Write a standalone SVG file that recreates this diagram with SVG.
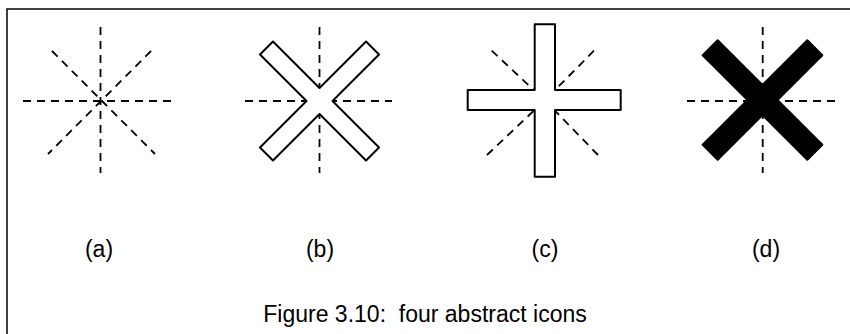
<svg xmlns="http://www.w3.org/2000/svg" width="850" height="334" viewBox="0 0 850 334">
<style>
.dash{fill:none;stroke:#000;stroke-width:1.8;stroke-dasharray:8,6}
.outline{fill:#fff;stroke:#000;stroke-width:2;stroke-linejoin:round}
.solid{fill:#000;stroke:#000;stroke-width:2;stroke-linejoin:round}
.lbl{font-family:"Liberation Sans",Arial,sans-serif;font-size:23px;fill:#000;text-anchor:middle;white-space:pre}
</style>
<rect width="850" height="334" fill="#fff"/>
<path d="M7,334 V9 H850" fill="none" stroke="#000" stroke-width="1.5"/>
<g id="icon-a">
  <line class="dash" x1="100.5" y1="27" x2="100.5" y2="173"/>
  <line class="dash" x1="23" y1="101" x2="172" y2="101"/>
  <line class="dash" x1="52" y1="51" x2="155" y2="154"/>
  <line class="dash" x1="151" y1="51" x2="48" y2="154"/>
</g>
<g id="icon-b">
  <line class="dash" x1="319.5" y1="27" x2="319.5" y2="173"/>
  <line class="dash" x1="245" y1="101" x2="392" y2="101"/>
  <polygon class="outline" transform="translate(319.5,101)" points="0,-13 46.53,-59.53 59.53,-46.53 13,0 59.53,46.53 46.53,59.53 0,13 -46.53,59.53 -59.53,46.53 -13,0 -59.53,-46.53 -46.53,-59.53"/>
</g>
<g id="icon-c">
  <line class="dash" x1="491.7" y1="50.7" x2="544.8" y2="100.3"/>
  <line class="dash" x1="594" y1="50.7" x2="544.8" y2="100.3"/>
  <line class="dash" x1="487" y1="155" x2="544.8" y2="100.3"/>
  <line class="dash" x1="598" y1="155" x2="544.8" y2="100.3"/>
  <polygon class="outline" points="534.7,24.3 555,24.3 555,90 620.7,90 620.7,110 555,110 555,176.7 534.7,176.7 534.7,110 467.7,110 467.7,90 534.7,90"/>
</g>
<g id="icon-d">
  <line class="dash" x1="762.7" y1="27" x2="762.7" y2="173"/>
  <line class="dash" x1="687" y1="101" x2="836" y2="101"/>
  <polygon class="solid" transform="translate(762.5,100)" points="0,-15 44.8,-59.8 59.8,-44.8 15,0 59.8,44.8 44.8,59.8 0,15 -44.8,59.8 -59.8,44.8 -15,0 -59.8,-44.8 -44.8,-59.8"/>
</g>
<g id="labels">
  <text class="lbl" x="99" y="257">(a)</text>
  <text class="lbl" x="320" y="257">(b)</text>
  <text class="lbl" x="545" y="257">(c)</text>
  <text class="lbl" x="766" y="257">(d)</text>
  <text class="lbl" x="425" y="322">Figure 3.10:  four abstract icons</text>
</g>
</svg>
